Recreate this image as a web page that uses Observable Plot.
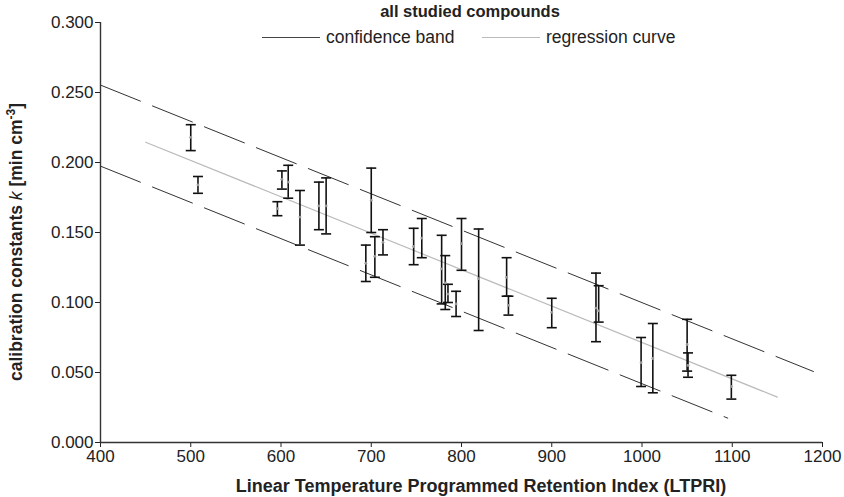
<!DOCTYPE html>
<html><head><meta charset="utf-8">
<script src="https://cdn.jsdelivr.net/npm/d3@7"></script>
<script src="https://cdn.jsdelivr.net/npm/@observablehq/plot@0.6"></script>
<style>
body{margin:0;background:#fff;}
#wrap{position:relative;width:844px;height:497px;font-family:"Liberation Sans",Arial,sans-serif;color:#222;}
#title{position:absolute;left:330px;width:280px;top:2px;text-align:center;font-weight:bold;font-size:16.5px;}
.leg{position:absolute;top:27px;font-size:17.5px;display:flex;align-items:center;white-space:nowrap;}
.sw{display:inline-block;width:58px;height:0;margin-right:6px;}
</style>
</head><body><div id="wrap"><div id="title">all studied compounds</div>
<div class="leg" id="leg1"><span class="sw" style="border-top:1.2px solid #444"></span>confidence band</div>
<div class="leg" id="leg2"><span class="sw" style="border-top:1.2px solid #bbb"></span>regression curve</div>
</div>
<script>
// LTPRI of each compound
const ltpri = [500,508,596,601,608,621,642,650,694,700,704,713,747,756,778,782,785,794,800,819,850,852,900,949,952,999,1012,1050,1051,1099];
// lower / upper end of each error bar, and its centre value
const kLow  = [0.2085,0.178,0.162,0.181,0.1745,0.141,0.152,0.149,0.115,0.150,0.118,0.134,0.127,0.132,0.099,0.095,0.100,0.090,0.123,0.080,0.1045,0.091,0.082,0.072,0.086,0.040,0.0355,0.051,0.0466,0.031];
const kHigh = [0.227,0.190,0.172,0.194,0.198,0.180,0.186,0.189,0.141,0.196,0.147,0.152,0.153,0.160,0.148,0.1335,0.113,0.108,0.160,0.1525,0.132,0.1045,0.103,0.121,0.112,0.075,0.085,0.088,0.064,0.048];
const kMean = [0.218,0.184,0.167,0.188,0.186,0.161,0.169,0.169,0.128,0.173,0.133,0.143,0.140,0.146,0.124,0.114,0.106,0.099,0.142,0.117,0.118,0.098,0.093,0.096,0.094,0.057,0.060,0.070,0.055,0.040];
// regression curve and confidence band end points
const regX = [450,1150], regK = [0.2145,0.0324];
const upX = [400,1190], upK = [0.2553,0.0507];
const loX = [400,1095], loK = [0.1974,0.0174];
const xTicks = [400,500,600,700,800,900,1000,1100,1200];
const yTicks = [0,0.05,0.1,0.15,0.2,0.25,0.3];

const rows = ltpri.map((x,i)=>({x, lo:kLow[i], hi:kHigh[i], m:kMean[i]}));
const pts = (xs,ks)=>xs.map((x,i)=>({x, k:ks[i]}));
const hbar = {draw(ctx,size){const w=Math.sqrt(size/Math.PI); ctx.moveTo(-w,0); ctx.lineTo(w,0);}};

const plot = Plot.plot({
  width:844, height:497, marginLeft:100, marginRight:22, marginTop:22, marginBottom:55,
  style:{fontFamily:"Liberation Sans, Arial, sans-serif", fontSize:"17px", color:"#222", background:"#fff", overflow:"visible"},
  x:{domain:[400,1200], ticks:xTicks, tickFormat:d3.format("d"), tickSize:5, tickPadding:2, label:null},
  y:{domain:[0,0.3], ticks:yTicks, tickFormat:d3.format(".3f"), tickSize:5, tickPadding:2, label:null},
  marks:[
    Plot.line(pts(upX,upK), {x:"x", y:"k", stroke:"#333", strokeWidth:1, strokeDasharray:"43,13"}),
    Plot.line(pts(loX,loK), {x:"x", y:"k", stroke:"#333", strokeWidth:1, strokeDasharray:"43,13"}),
    Plot.line(pts(regX,regK), {x:"x", y:"k", stroke:"#bbb", strokeWidth:1.2}),
    Plot.ruleX(rows, {x:"x", y1:"lo", y2:"hi", stroke:"#111", strokeWidth:1.6}),
    Plot.dot(rows, {x:"x", y:"lo", symbol:hbar, r:5, stroke:"#111", strokeWidth:1.6, fill:"none"}),
    Plot.dot(rows, {x:"x", y:"hi", symbol:hbar, r:5, stroke:"#111", strokeWidth:1.6, fill:"none"}),
    Plot.dot(rows, {x:"x", y:"m", r:1.4, fill:"#999", stroke:"none"}),
    Plot.ruleX([400], {stroke:"#333", strokeWidth:1.4}),
    Plot.ruleY([0], {stroke:"#333", strokeWidth:1.4})
  ]
});
const wrap = document.getElementById("wrap");
wrap.insertBefore(plot, wrap.firstChild);
const svg = d3.select(plot);
const t = svg.append("text")
  .attr("transform", `translate(22,242) rotate(-90)`)
  .attr("text-anchor","middle").attr("font-weight","bold").attr("font-size",17.5).attr("fill","#222");
t.append("tspan").text("calibration constants ");
t.append("tspan").attr("font-style","italic").attr("font-weight","normal").text("k");
t.append("tspan").text(" [min cm");
t.append("tspan").attr("dy",-7).attr("font-size",12).text("-3");
t.append("tspan").attr("dy",7).text("]");
svg.append("text").attr("x", 481).attr("y", 492).attr("text-anchor","middle")
  .attr("font-weight","bold").attr("font-size",18).attr("fill","#222")
  .text("Linear Temperature Programmed Retention Index (LTPRI)");
document.getElementById("leg1").style.left = "262px";
document.getElementById("leg2").style.left = "482px";
</script>
</body></html>
